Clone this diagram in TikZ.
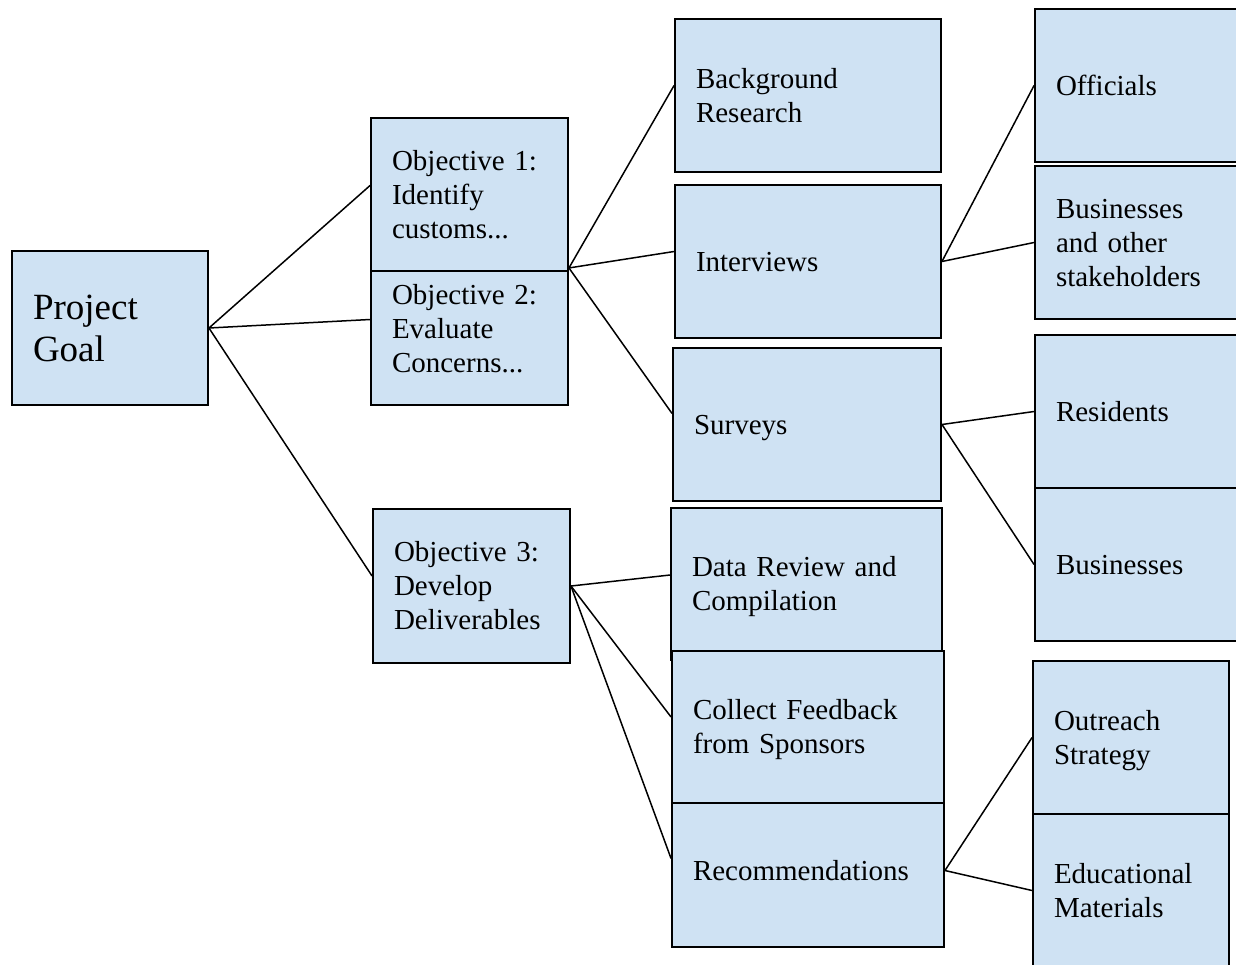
\documentclass[tikz,border=0pt]{standalone}
\usepackage{fontspec}
\setmainfont{Liberation Serif}
\definecolor{boxfill}{HTML}{CFE2F3}
\newcommand\bxstrut{\rule[-0.216em]{0pt}{1.107em}}
\begin{document}
\begin{tikzpicture}[x=1pt,y=-1pt,
  box/.style={draw=black, line width=1.9pt, fill=boxfill, inner sep=0pt, align=left,
    font=\fontsize{29pt}{34pt}\selectfont,
    execute at begin node={\bxstrut}, execute at end node={\bxstrut}},
  link/.style={draw=black, line width=1.5pt}]
\useasboundingbox (0,0) rectangle (1236,964);

% column 1
\node[box, minimum width=196pt, minimum height=154pt, text width=154pt,
  font=\fontsize{37pt}{42pt}\selectfont] (pg) at (110,328) {Project\\Goal};

% column 2
\node[box, minimum width=197pt, minimum height=153pt, text width=155pt] (obj2) at (469.5,328.5) {Objective 2:\\Evaluate\\Concerns...};
\node[box, minimum width=197pt, minimum height=153pt, text width=155pt] (obj1) at (469.5,194.5) {Objective 1:\\Identify\\customs...};
\node[box, minimum width=197pt, minimum height=154pt, text width=155pt] (obj3) at (471.5,586) {Objective 3:\\Develop\\Deliverables};

% column 3
\node[box, minimum width=266pt, minimum height=153pt, text width=224pt] (bg) at (808,95.5) {Background\\Research};
\node[box, minimum width=266pt, minimum height=153pt, text width=224pt] (int) at (808,261.5) {Interviews};
\node[box, minimum width=268pt, minimum height=153pt, text width=226pt] (surv) at (807,424.5) {Surveys};
\node[box, minimum width=271pt, minimum height=152pt, text width=229pt] (dr) at (806.5,584) {Data Review and\\Compilation};
\node[box, minimum width=272pt, minimum height=153pt, text width=230pt] (rec) at (808,870.5) {Recommendations};
\node[box, minimum width=272pt, minimum height=152pt, text width=230pt] (cf) at (808,727) {Collect Feedback\\from Sponsors};

% column 4
\node[box, minimum width=215pt, minimum height=153pt, text width=173pt] (off) at (1142.5,85.5) {Officials};
\node[box, minimum width=215pt, minimum height=153pt, text width=173pt] (bo) at (1142.5,242.5) {Businesses\\and other\\stakeholders};
\node[box, minimum width=215pt, minimum height=153pt, text width=173pt] (res) at (1142.5,411.5) {Residents};
\node[box, minimum width=215pt, minimum height=153pt, text width=173pt] (bus) at (1142.5,564.5) {Businesses};
\node[box, minimum width=196pt, minimum height=153pt, text width=154pt] (out) at (1131,737.5) {Outreach\\Strategy};
\node[box, minimum width=196pt, minimum height=153pt, text width=154pt] (edu) at (1131,890.5) {Educational\\Materials};

% connectors
\draw[link] (pg.east) -- ([yshift=9pt]obj1.west);
\draw[link] (pg.east) -- ([yshift=9pt]obj2.west);
\draw[link] (pg.east) -- ([yshift=10pt]obj3.west);

\coordinate (j12) at ([yshift=4pt]obj1.south east);
\draw[link] (j12) -- ([yshift=10pt]bg.west);
\draw[link] (j12) -- ([yshift=10pt]int.west);
\draw[link] (j12) -- ([yshift=11pt]surv.west);

\draw[link] (obj3.east) -- ([yshift=9pt]dr.west);
\draw[link] (obj3.east) -- ([yshift=10pt]cf.west);
\draw[link] (obj3.east) -- ([yshift=12pt]rec.west);

\draw[link] (int.east) -- (off.west);
\draw[link] (int.east) -- (bo.west);
\draw[link] (surv.east) -- (res.west);
\draw[link] (surv.east) -- (bus.west);
\draw[link] (rec.east) -- (out.west);
\draw[link] (rec.east) -- (edu.west);
\end{tikzpicture}
\end{document}
